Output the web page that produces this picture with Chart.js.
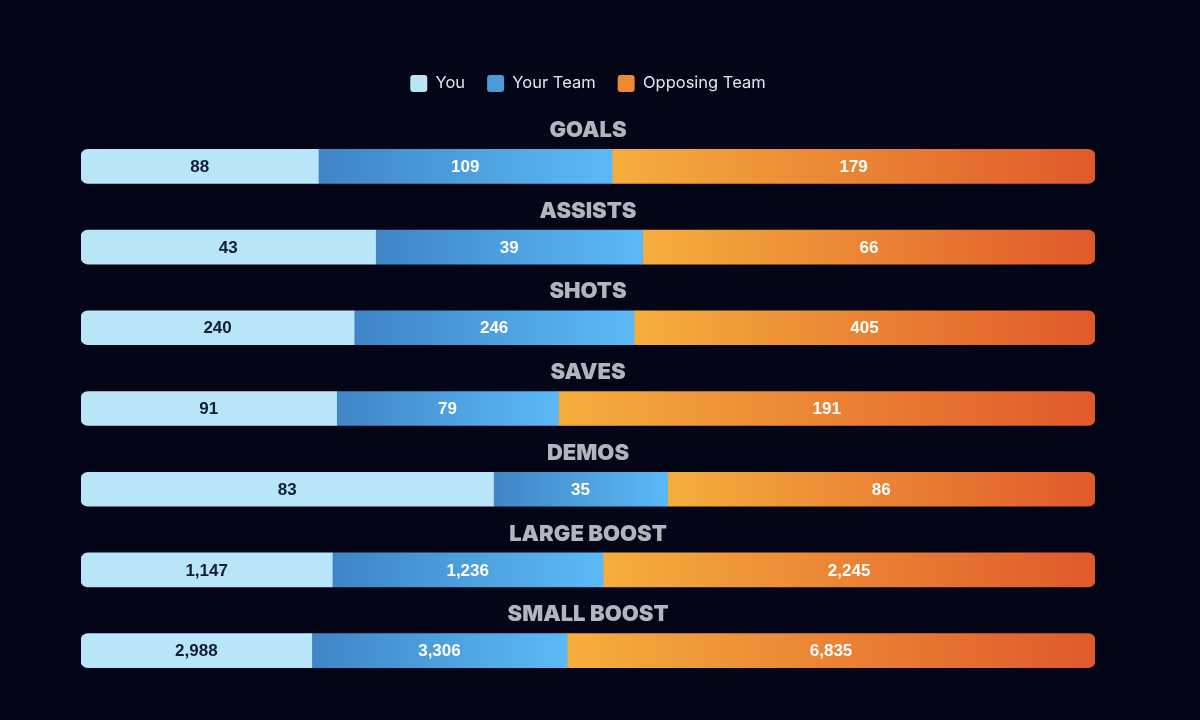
<!DOCTYPE html>
<html>
<head>
<meta charset="utf-8">
<title>Match stats</title>
<script src="https://cdn.jsdelivr.net/npm/chart.js@4.4.1/dist/chart.umd.min.js"></script>
<style>
  html, body { margin: 0; padding: 0; background: #050518; }
  #wrap { width: 1200px; height: 720px; position: relative; }
</style>
</head>
<body>
<div id="wrap"><canvas id="stats"></canvas></div>
<script>
const categories = ["GOALS", "ASSISTS", "SHOTS", "SAVES", "DEMOS", "LARGE BOOST", "SMALL BOOST"];
const seriesNames = ["You", "Your Team", "Opposing Team"];
const youValues = [88, 43, 240, 91, 83, 1147, 2988];
const teamValues = [109, 39, 246, 79, 35, 1236, 3306];
const opposingValues = [179, 66, 405, 191, 86, 2245, 6835];

const raw = [youValues, teamValues, opposingValues];
// each row is shown as a share of its own total
const totals = categories.map((_, i) => raw.reduce((s, arr) => s + arr[i], 0));
const shares = raw.map(arr => arr.map((v, i) => v / totals[i] * 100));

// [left colour, right colour] per series
const fills = [
    ["#b9e5f8", "#b9e5f8"],
    ["#3f85c5", "#5bbaf6"],
    ["#f5ae3d", "#e0592b"]
];
const legendFills = ["#b9e5f8", "#4a9ad8", "#ec8a34"];
const labelColors = ["#0f1d3a", "#ffffff", "#ffffff"];

const segmentFill = (context) => {
    const di = context.datasetIndex;
    const [c0, c1] = fills[di];
    if (context.type !== "data" || !context.chart.chartArea) return c0;
    const i = context.dataIndex;
    const x = context.chart.scales.x;
    let start = 0;
    for (let k = 0; k < di; k++) start += shares[k][i];
    const x0 = x.getPixelForValue(start);
    const x1 = x.getPixelForValue(start + shares[di][i]);
    const g = context.chart.ctx.createLinearGradient(x0, 0, x1, 0);
    g.addColorStop(0, c0);
    g.addColorStop(1, c1);
    return g;
};

const radii = [
    { topLeft: 7, bottomLeft: 7, topRight: 0, bottomRight: 0 },
    0,
    { topLeft: 0, bottomLeft: 0, topRight: 7, bottomRight: 7 }
];

// extra room between the legend and the first row
const legendGap = {
    id: "legendGap",
    beforeInit(chart) {
        const fit = chart.legend.fit;
        chart.legend.fit = function () {
            fit.call(this);
            this.height += 24;
        };
    }
};

const rowTitles = {
    id: "rowTitles",
    afterDatasetsDraw(chart) {
        const { ctx, chartArea, scales } = chart;
        const cx = (chartArea.left + chartArea.right) / 2;
        ctx.save();
        ctx.font = "900 22px Inter";
        ctx.fillStyle = "#b4b4bc";
        ctx.textAlign = "center";
        ctx.textBaseline = "middle";
        categories.forEach((name, i) => {
            ctx.fillText(name, cx, scales.y.getPixelForValue(i) - 36);
        });

        ctx.font = "bold 17px 'Liberation Sans', Arial, sans-serif";
        raw.forEach((arr, di) => {
            const meta = chart.getDatasetMeta(di);
            ctx.fillStyle = labelColors[di];
            meta.data.forEach((bar, i) => {
                const mid = (bar.x + bar.base) / 2;
                ctx.fillText(arr[i].toLocaleString("en-US"), mid, bar.y + 1);
            });
        });
        ctx.restore();
    }
};

new Chart(document.getElementById("stats"), {
    type: "bar",
    data: {
        labels: categories,
        datasets: seriesNames.map((name, di) => ({
            label: name,
            data: shares[di],
            backgroundColor: segmentFill,
            borderWidth: 0,
            borderRadius: radii[di],
            borderSkipped: false,
            barThickness: 34
        }))
    },
    options: {
        indexAxis: "y",
        responsive: true,
        maintainAspectRatio: false,
        animation: false,
        layout: { padding: { top: 53, left: 81, right: 105, bottom: 29 } },
        scales: {
            x: { stacked: true, min: 0, max: 100, display: false },
            y: { stacked: true, display: false }
        },
        plugins: {
            tooltip: { enabled: false },
            legend: {
                position: "top",
                labels: {
                    color: "#e6e6ea",
                    font: { family: "Inter", size: 16.5 },
                    boxWidth: 17,
                    boxHeight: 17,
                    padding: 22,
                    useBorderRadius: true,
                    borderRadius: 3,
                    generateLabels: () => seriesNames.map((name, di) => ({
                        text: name,
                        fillStyle: legendFills[di],
                        strokeStyle: legendFills[di],
                        lineWidth: 0,
                        fontColor: "#e6e6ea",
                        borderRadius: 3,
                        datasetIndex: di
                    }))
                }
            }
        }
    },
    plugins: [legendGap, rowTitles]
});
</script>
</body>
</html>
